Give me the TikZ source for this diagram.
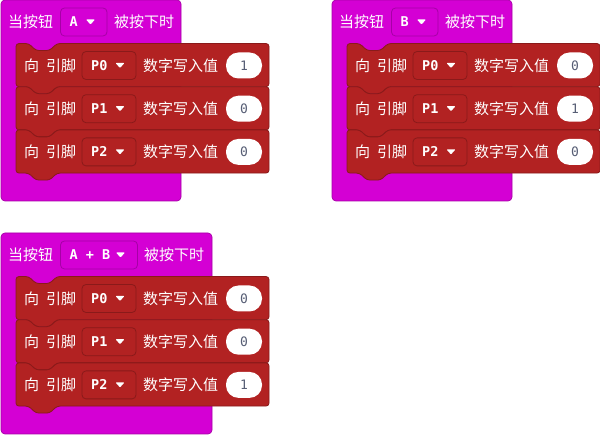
\documentclass[tikz,border=0pt]{standalone}
\usepackage{fontspec}
\newfontfamily\cjk{Noto Sans CJK SC}
\newfontfamily\monofnt{DejaVu Sans Mono}
\definecolor{mbpurple}{HTML}{D400D4}
\definecolor{mbpurpled}{HTML}{A600A6}
\definecolor{mbred}{HTML}{B22222}
\definecolor{mbredd}{HTML}{8A1A1A}
\definecolor{valgray}{HTML}{575E75}
\tikzset{
  hatblock/.style={fill=mbpurple, draw=mbpurpled, line width=0.7pt, rounded corners=4pt},
  pinblock/.style={fill=mbred, draw=mbredd, line width=0.8pt, rounded corners=3pt},
  ddpurple/.style={fill=mbpurple, draw=mbpurpled, line width=0.8pt, rounded corners=4pt},
  ddred/.style={fill=mbred, draw=mbredd, line width=0.8pt, rounded corners=4pt},
  cjklbl/.style={text=white, font=\cjk\fontsize{15}{18}\selectfont, anchor=west, inner sep=0pt},
  ddlbl/.style={text=white, font=\monofnt\bfseries\fontsize{13.5}{15}\selectfont, anchor=west, inner sep=0pt},
  valoval/.style={fill=white, rounded corners=12.5pt},
  vallbl/.style={text=valgray, font=\monofnt\fontsize{13}{15}\selectfont, inner sep=0pt},
  ddarrow/.style={fill=white, rounded corners=0.8pt}
}
% #1 x of red left, #2 y top, #3 pin, #4 value, #5 name prefix
\newcommand\mbpinrow[5]{%
  \draw[pinblock] (#1, #2+20) -- (#1, #2) -- (#1+12.6, #2) -- (#1+20, #2+7) -- (#1+33.6, #2+7)
    -- (#1+41, #2) -- (#1+253, #2) -- (#1+253, #2+43.2) -- (#1+41, #2+43.2)
    -- (#1+33.6, #2+50.2) -- (#1+20, #2+50.2) -- (#1+12.6, #2+43.2) -- (#1, #2+43.2) -- cycle;
  \node[cjklbl] (#5dir) at (#1+8, #2+22) {向};
  \node[cjklbl] (#5pin) at (#1+30, #2+22) {引脚};
  \draw[ddred] (#1+66, #2+8) rectangle (#1+120, #2+36);
  \node[ddlbl] (#5dd) at (#1+75, #2+22) {#3};
  \fill[ddarrow] (#1+99.5, #2+19.5) -- (#1+108.5, #2+19.5) -- (#1+104, #2+24.5) -- cycle;
  \node[cjklbl] (#5txt) at (#1+127, #2+22) {数字写入值};
  \fill[valoval] (#1+210, #2+9) rectangle (#1+246, #2+35);
  \node[vallbl] (#5val) at (#1+228, #2+22) {#4};
}
% #1 x0, #2 y0, #3 hat width, #4 dd right, #5 dd label, #6 arrow x, #7 text x, #8 name
\newcommand\mbhat[8]{%
  \draw[hatblock] (#1, #2) rectangle (#1+#3, #2+201);
  \node[cjklbl] (#8when) at (#1+7, #2+22) {当按钮};
  \draw[ddpurple] (#1+59.5, #2+8) rectangle (#1+#4, #2+36);
  \node[ddlbl] (#8btn) at (#1+68.5, #2+22) {#5};
  \fill[ddarrow] (#1+#6, #2+19.5) -- (#1+#6+9, #2+19.5) -- (#1+#6+4.5, #2+24.5) -- cycle;
  \node[cjklbl] (#8press) at (#1+#7, #2+22) {被按下时};
}
\begin{document}
\begin{tikzpicture}[x=1pt, y=-1pt]
\useasboundingbox (0,0) rectangle (600,435);
% block A
\mbhat{1}{0}{180}{106}{A}{85}{113}{a}
\mbpinrow{16}{43.5}{P0}{1}{aa}
\mbpinrow{16}{86.7}{P1}{0}{ab}
\mbpinrow{16}{129.9}{P2}{0}{ac}
% block B
\mbhat{332}{0}{180}{106}{B}{85}{113}{b}
\mbpinrow{347}{43.5}{P0}{0}{ba}
\mbpinrow{347}{86.7}{P1}{1}{bb}
\mbpinrow{347}{129.9}{P2}{0}{bc}
% block A+B
\mbhat{1}{233}{211}{136.5}{A + B}{115}{143}{c}
\mbpinrow{16}{276.5}{P0}{0}{ca}
\mbpinrow{16}{319.7}{P1}{0}{cb}
\mbpinrow{16}{362.9}{P2}{1}{cc}
\end{tikzpicture}
\end{document}
